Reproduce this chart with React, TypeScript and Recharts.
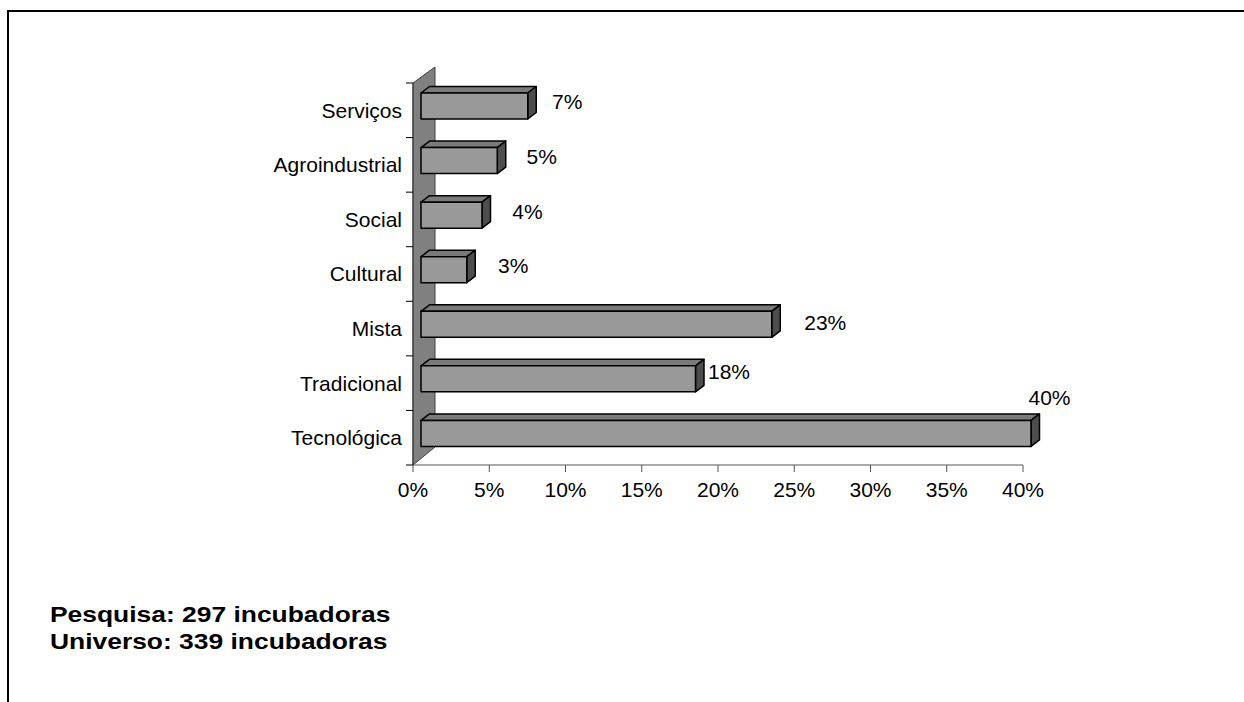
import React from 'react';
import { BarChart, Bar, XAxis, YAxis, ReferenceArea, LabelList } from 'recharts';

const categories = ['Serviços', 'Agroindustrial', 'Social', 'Cultural', 'Mista', 'Tradicional', 'Tecnológica'];
const shares = [7, 5, 4, 3, 23, 18, 40];
const xTicks = [0, 5, 10, 15, 20, 25, 30, 35, 40];
const notes = ['Pesquisa: 297 incubadoras', 'Universo: 339 incubadoras'];

// where Excel dropped each value label, relative to the back top corner of the bar
const labelNudge = [
  [31, 15], [36, 15], [37, 16], [38, 15], [45, 18], [25, 12], [10, -16],
];

const data = categories.map((name, i) => ({ name, value: shares[i] }));

const FONT = '"Liberation Sans", Arial, sans-serif';
const SHIFT_X = 8;
const SHIFT_Y = -4;
const DEPTH_X = 8.5;
const DEPTH_Y = -6.5;

const Box3D = (props: any) => {
  const { x, y, width, height } = props;
  const fx = x + SHIFT_X;
  const fy = y + SHIFT_Y;
  const w = Math.max(width, 0);
  return (
    <g stroke="#000" strokeWidth={1.5} strokeLinejoin="round">
      <polygon
        points={`${fx},${fy} ${fx + DEPTH_X},${fy + DEPTH_Y} ${fx + w + DEPTH_X},${fy + DEPTH_Y} ${fx + w},${fy}`}
        fill="#7a7a7a"
      />
      <polygon
        points={`${fx + w},${fy} ${fx + w + DEPTH_X},${fy + DEPTH_Y} ${fx + w + DEPTH_X},${fy + height + DEPTH_Y} ${fx + w},${fy + height}`}
        fill="#4d4d4d"
      />
      <rect x={fx} y={fy} width={w} height={height} fill="#999999" />
    </g>
  );
};

const Wall = (props: any) => {
  const { x, y, height } = props;
  const n = categories.length;
  const step = height / n;
  return (
    <g>
      <polygon
        points={`${x},${y} ${x + 22},${y - 16} ${x + 22},${y + height - 18} ${x},${y + height}`}
        fill="#808080"
        stroke="#404040"
        strokeWidth={1}
      />
      <line x1={x} y1={y} x2={x} y2={y + height} stroke="#404040" strokeWidth={1.2} />
      {Array.from({ length: n + 1 }, (_, k) => (
        <line key={k} x1={x - 7} y1={y + k * step} x2={x} y2={y + k * step} stroke="#000" strokeWidth={1} />
      ))}
    </g>
  );
};

const ValueLabel = (props: any) => {
  const { x, y, width, index, value } = props;
  const bx = x + width + SHIFT_X + DEPTH_X;
  const by = y + SHIFT_Y + DEPTH_Y;
  const [dx, dy] = labelNudge[index] || [30, 14];
  return (
    <text x={bx + dx} y={by + dy} textAnchor="middle" dominantBaseline="central" fontFamily={FONT} fontSize={21} fill="#000">
      {`${value}%`}
    </text>
  );
};

const App: React.FC = () => {
  return (
    <div style={{ position: 'absolute', left: 0, top: 0, width: 1244, height: 702, background: '#fff', overflow: 'hidden' }}>
      <div style={{ position: 'absolute', left: 7, top: 10, width: 1237, height: 2, background: '#000' }} />
      <div style={{ position: 'absolute', left: 7, top: 10, width: 2, height: 692, background: '#000' }} />
      <BarChart
        width={1244}
        height={702}
        data={data}
        layout="vertical"
        margin={{ top: 83, right: 221, left: 0, bottom: 207 }}
      >
        <XAxis
          type="number"
          domain={[0, 40]}
          ticks={xTicks}
          interval={0}
          tickFormatter={(v: number) => `${v}%`}
          axisLine={{ stroke: '#555', strokeWidth: 1 }}
          tickLine={{ stroke: '#555' }}
          tickSize={7}
          tickMargin={10}
          height={30}
          tick={{ fill: '#000', fontSize: 21, fontFamily: FONT }}
        />
        <YAxis
          type="category"
          dataKey="name"
          width={413}
          axisLine={false}
          tickLine={false}
          tickSize={0}
          tickMargin={11}
          interval={0}
          tick={{ fill: '#000', fontSize: 21, fontFamily: FONT }}
        />
        <ReferenceArea x1={0} x2={40} shape={<Wall />} fill="none" />
        <Bar dataKey="value" barSize={26} shape={<Box3D />} isAnimationActive={false}>
          <LabelList dataKey="value" content={<ValueLabel />} />
        </Bar>
      </BarChart>
      <div
        style={{
          position: 'absolute',
          left: 50,
          top: 601,
          fontFamily: FONT,
          fontWeight: 'bold',
          fontSize: 22,
          lineHeight: '27px',
          color: '#000',
          whiteSpace: 'nowrap',
          transform: 'scaleX(1.2)',
          transformOrigin: 'left top',
        }}
      >
        {notes.map(line => (
          <div key={line}>{line}</div>
        ))}
      </div>
    </div>
  );
};

export default App;
